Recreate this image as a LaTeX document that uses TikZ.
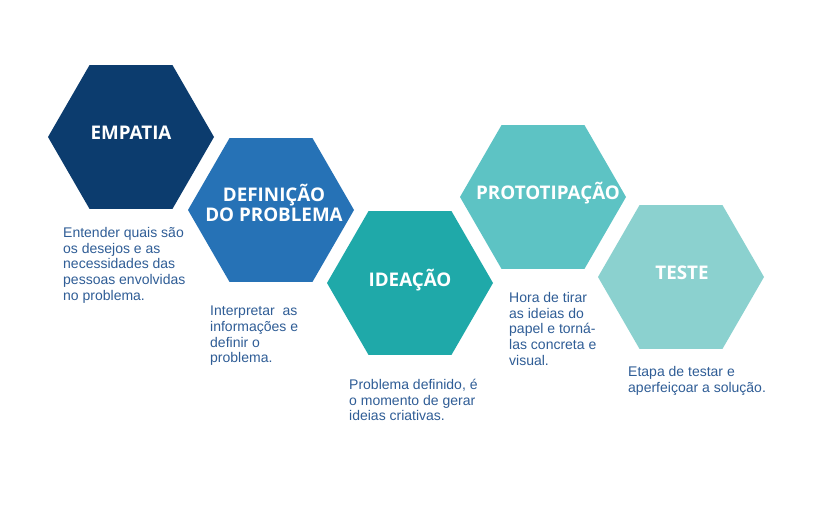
\documentclass[tikz,border=0pt]{standalone}
\usepackage{fontspec}
\setmainfont{Liberation Sans}
\newfontfamily\titlefont{Open Sans}
\definecolor{cEmp}{HTML}{0C3C6E}
\definecolor{cDef}{HTML}{2672B6}
\definecolor{cIde}{HTML}{1FA9A9}
\definecolor{cPro}{HTML}{5DC3C4}
\definecolor{cTes}{HTML}{8BD1CF}
\definecolor{cTxt}{HTML}{2F5D96}
\newcommand{\hexshape}[3]{%
  \fill[#3] (#1+83,#2) -- ++(120:83pt) -- ++(180:83pt) -- ++(240:83pt) -- ++(300:83pt) -- ++(0:83pt) -- cycle;}
\begin{document}
\begin{tikzpicture}[x=1pt,y=-1pt,
  hexlabel/.style={text=white,font=\titlefont\bfseries\fontsize{18.8}{20.5}\selectfont,align=center,inner sep=0pt},
  desc/.style={text=cTxt,font=\fontsize{14}{15.7}\selectfont,align=left,anchor=north west,inner sep=0pt}]
\useasboundingbox[fill=white] (0,0) rectangle (822,513);
\hexshape{131}{137}{cEmp}
\hexshape{271}{210}{cDef}
\hexshape{410}{283}{cIde}
\hexshape{543}{197}{cPro}
\hexshape{681}{277}{cTes}
\node[hexlabel] (emp) at (131,133) {EMPATIA};
\node[hexlabel] (def) at (274,203) {DEFINIÇÃO\\DO PROBLEMA};
\node[hexlabel] (ide) at (410,280) {IDEAÇÃO};
\node[hexlabel] (pro) at (548,193) {PROTOTIPAÇÃO};
\node[hexlabel] (tes) at (682,273) {TESTE};
\node[desc] (d1) at (63,227) {Entender quais são\\os desejos e as\\necessidades das\\pessoas envolvidas\\no problema.};
\node[desc] (d2) at (210,306) {Interpretar\ \ as\\informações e\\definir o\\problema.};
\node[desc] (d3) at (349,379) {Problema definido, é\\o momento de gerar\\ideias criativas.};
\node[desc] (d4) at (509,292) {Hora de tirar\\as ideias do\\papel e torná-\\las concreta e\\visual.};
\node[desc] (d5) at (628,366) {Etapa de testar e\\aperfeiçoar a solução.};
\end{tikzpicture}
\end{document}
